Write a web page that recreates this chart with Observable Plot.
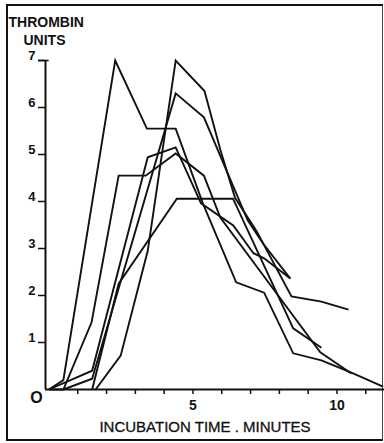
<!DOCTYPE html>
<html><head><meta charset="utf-8">
<script src="https://cdn.jsdelivr.net/npm/d3@7"></script>
<script src="https://cdn.jsdelivr.net/npm/@observablehq/plot@0.6"></script>
<style>
html,body{margin:0;padding:0;background:#fff;}
#wrap{position:relative;width:384px;height:443px;overflow:hidden;}
#border{position:absolute;left:6px;top:4px;width:377px;height:437px;box-sizing:border-box;border:2px solid #111;border-right:1px solid #444;}
#chart{position:absolute;left:0;top:0;}
</style></head><body>
<div id="wrap"><div id="border"></div><div id="chart"></div></div>
<script>
// Tick values
const xTicks = [1,2,3,4,5,6,7,8,9,10,11];
const xLabels = [5,10];
const yTicks = [1,2,3,4,5,6,7];

// Each curve: [incubation time (min), thrombin units]
const curveA = [[0,0],[0.5,0.2],[2.3,7.0],[3.4,5.55],[4.4,5.55],[5.35,3.95],[6.5,2.28],[7.47,2.06],[8.48,0.77],[9.46,0.62],[10.5,0.36],[11.6,0.06]];
const curveB = [[0,0],[0.5,0],[1.48,1.43],[2.42,4.55],[3.36,4.55],[4.4,5.02],[5.38,4.55],[5.95,3.66],[8.08,1.9],[9.42,0.79],[10.5,0.34]];
const curveC = [[0,0],[1.5,0.4],[3.43,4.94],[4.4,5.15],[5.28,3.96],[6.4,3.49],[7.1,2.9],[7.47,2.79],[8.38,2.36]];
const curveD = [[1.62,0],[2.49,0.72],[3.43,2.95],[4.4,7.0],[5.4,6.35],[5.95,5.1],[6.46,4.08],[7.2,3.38],[8.42,1.98],[9.46,1.87],[10.4,1.7]];
const curveE = [[0.5,0],[1.5,0.23],[4.4,6.3],[5.38,5.79],[6.9,3.6],[7.44,3.1],[8.38,2.36]];
const curveF = [[1.5,0],[2.42,2.25],[4.44,4.06],[6.39,4.06],[8.48,1.3],[9.46,0.89]];

const series = [["A",curveA],["B",curveB],["C",curveC],["D",curveD],["E",curveE],["F",curveF]];
const rows = series.flatMap(([id, pts]) => pts.map(([t, v]) => ({id, t, v})));

const xMin = -0.12, xMax = 11.65;
const font = "'Liberation Sans', Arial, Helvetica, sans-serif";
const ink = "#111";

const chart = Plot.plot({
  width: 384, height: 443,
  marginLeft: 45, marginRight: 0, marginTop: 60, marginBottom: 54,
  x: {domain: [xMin, xMax], label: null},
  y: {domain: [0, 7], label: null},
  style: {fontFamily: font, background: "transparent", color: ink},
  marks: [
    Plot.ruleX([xMin], {y1: 0, y2: yTicks[yTicks.length - 1], stroke: ink, strokeWidth: 2}),
    Plot.ruleY([0], {stroke: ink, strokeWidth: 2}),
    Plot.ruleY([yTicks[yTicks.length - 1]], {x1: xMin, x2: 0.25, dx: -7, stroke: ink, strokeWidth: 1.6}),
    Plot.axisY(yTicks, {tickSize: 7, strokeWidth: 1.5, label: null, tickFormat: () => ""}),
    Plot.text(yTicks, {x: xMin, y: d => d, text: d => String(d), textAnchor: "end", dx: -10, dy: -5, fontSize: 13, fontWeight: 600, fill: ink}),
    Plot.axisX(xTicks, {tickSize: 5, strokeWidth: 1.5, tickPadding: 6, fontSize: 14, fontWeight: 600, label: null, tickFormat: d => xLabels.includes(d) ? String(d) : ""}),
    Plot.text([0], {x: xMin, y: 0, text: () => "O", dx: -9, dy: 8, fontSize: 16, fontWeight: 600, fill: ink}),
    Plot.line(rows, {x: "t", y: "v", z: "id", stroke: ink, strokeWidth: 1.9, strokeLinejoin: "miter", strokeMiterlimit: 4, strokeLinecap: "butt"}),
    Plot.text(["THROMBIN"], {text: d => d, frameAnchor: "top-left", textAnchor: "start", dx: -37, dy: -43, fontSize: 14, fontWeight: 600, fill: ink}),
    Plot.text(["UNITS"], {text: d => d, frameAnchor: "top-left", textAnchor: "start", dx: -22, dy: -25, fontSize: 14, fontWeight: 600, fill: ink}),
    Plot.text(["INCUBATION TIME . MINUTES"], {text: d => d, frameAnchor: "bottom", dx: -10, dy: 42, fontSize: 15, fill: ink, stroke: ink, strokeWidth: 0.3})
  ]
});
document.getElementById("chart").appendChild(chart);
</script>
</body></html>
